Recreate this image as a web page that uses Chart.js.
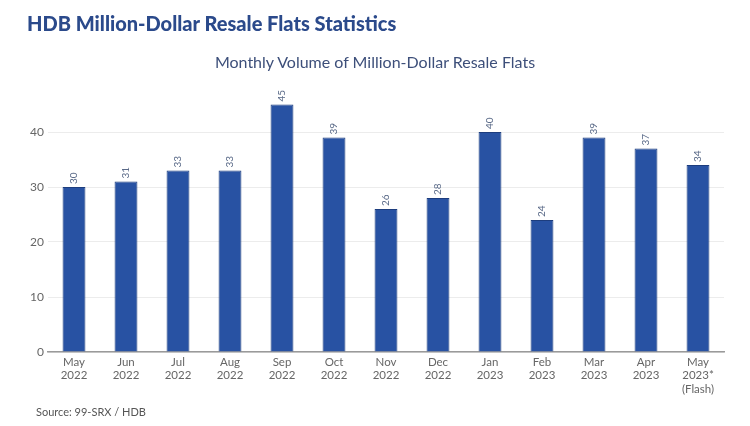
<!DOCTYPE html>
<html><head><meta charset="utf-8">
<script src="https://cdn.jsdelivr.net/npm/chart.js@4/dist/chart.umd.min.js"></script>
<style>
html,body{margin:0;padding:0;background:#fff;}
#wrap{position:relative;width:750px;height:426px;overflow:hidden;font-family:Lato,"Open Sans",sans-serif;}
#title{position:absolute;left:27px;top:11px;font-size:20px;font-weight:900;color:#2b4a8b;white-space:nowrap;margin:0;}
#sub{position:absolute;left:0;width:750px;top:52px;text-align:center;font-size:16px;color:#3d4f7a;}
#src{position:absolute;left:36px;top:405px;font-size:11px;color:#555;}
#c{position:absolute;left:0;top:0;}
</style></head>
<body><div id="wrap">
<canvas id="c" width="750" height="426"></canvas>
<div id="title">HDB Million-Dollar Resale Flats Statistics</div>
<div id="sub">Monthly Volume of Million-Dollar Resale Flats</div>
<div id="src">Source: 99-SRX / HDB</div>
</div>
<script>
const categories = [["May","2022"],["Jun","2022"],["Jul","2022"],["Aug","2022"],["Sep","2022"],["Oct","2022"],["Nov","2022"],["Dec","2022"],["Jan","2023"],["Feb","2023"],["Mar","2023"],["Apr","2023"],["May","2023*","(Flash)"]];
const volumes = [30,31,33,33,45,39,26,28,40,24,39,37,34];
const yTicks = [0,10,20,30,40];

const labelPlugin = {
  id:'barLabels',
  afterDatasetsDraw(chart){
    const ctx = chart.ctx;
    const meta = chart.getDatasetMeta(0);
    ctx.save();
    ctx.font = '10px Lato, sans-serif';
    ctx.fillStyle = '#5a6a88';
    ctx.textAlign = 'left';
    ctx.textBaseline = 'middle';
    meta.data.forEach((bar,i)=>{
      ctx.save();
      ctx.translate(bar.x, bar.y - 3);
      ctx.rotate(-Math.PI/2);
      ctx.fillText(String(volumes[i]), 0, 0);
      ctx.restore();
    });
    ctx.restore();
  }
};

new Chart(document.getElementById('c'), {
  type:'bar',
  data:{labels:categories, datasets:[{data:volumes, backgroundColor:'#2852a3', borderColor:'#1d3d7e', borderWidth:1, barPercentage:0.44, categoryPercentage:1}]},
  options:{
    responsive:false, animation:false,
    layout:{padding:{left:0,right:26,top:88,bottom:0}},
    plugins:{legend:{display:false},tooltip:{enabled:false},title:{display:false}},
    scales:{
      x:{
        grid:{display:false, drawTicks:false},
        border:{display:true,color:'#9a9a9a',width:1.5},
        ticks:{color:'#666',font:{family:'Lato',size:11.5},padding:3,maxRotation:0,autoSkip:false},
        afterFit(s){s.height = 74;}
      },
      y:{
        min:0,max:48,
        grid:{color:'#ececec',drawTicks:false},
        border:{display:false},
        ticks:{stepSize:10,color:'#666',font:{family:'Lato',size:12},padding:4},
        afterBuildTicks(s){s.ticks = yTicks.map(v=>({value:v}));},
        afterFit(s){s.width = 48;}
      }
    }
  },
  plugins:[labelPlugin]
});
</script>
</body></html>
